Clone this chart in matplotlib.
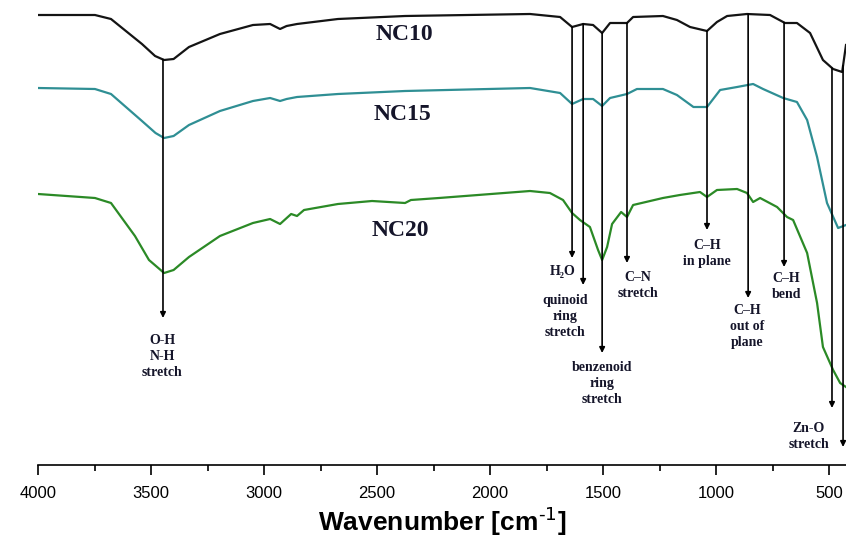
import numpy as np
import matplotlib
matplotlib.use("Agg")
import matplotlib.pyplot as plt

# wavenumber (cm-1) and transmittance (a.u., offset)
wn_nc10 = [4000, 3748, 3677, 3540, 3482, 3442, 3400, 3332, 3195, 3049, 2973, 2929, 2900,
           2854, 2673, 2376, 1823, 1690, 1637, 1588, 1544, 1504, 1469, 1394, 1367, 1235,
           1173, 1115, 1040, 996, 951, 863, 761, 695, 642, 584, 527, 482, 442, 425]
t_nc10 = [450, 450, 446, 421, 409, 405, 406, 418, 431, 440, 441, 436, 439,
          441, 446, 449, 451, 448, 438, 441, 440, 432, 442, 442, 448, 449,
          445, 438, 434, 443, 449, 451, 450, 442, 442, 432, 405, 396, 393, 420]

wn_nc15 = [4000, 3748, 3677, 3540, 3480, 3442, 3400, 3332, 3195, 3049, 2973, 2929, 2900,
           2854, 2673, 2376, 1823, 1690, 1637, 1588, 1544, 1504, 1469, 1394, 1350, 1235,
           1173, 1100, 1040, 982, 907, 836, 792, 703, 642, 597, 553, 509, 460, 425]
t_nc15 = [377, 376, 371, 344, 332, 327, 329, 340, 354, 364, 367, 364, 366,
          368, 371, 374, 377, 372, 361, 366, 366, 359, 367, 371, 376, 376,
          370, 358, 358, 375, 378, 381, 376, 367, 363, 345, 308, 262, 237, 240]

wn_nc20 = [4000, 3748, 3677, 3571, 3509, 3442, 3400, 3332, 3195, 3049, 2973, 2929, 2880,
           2854, 2823, 2673, 2522, 2376, 2350, 2226, 1823, 1735, 1677, 1637, 1602, 1558,
           1522, 1504, 1482, 1460, 1420, 1394, 1367, 1235, 1160, 1071, 1040, 996, 907,
           863, 836, 805, 730, 686, 659, 597, 553, 527, 482, 451, 425]
t_nc20 = [271, 267, 262, 229, 205, 192, 195, 208, 229, 242, 246, 241, 251,
          249, 255, 261, 264, 262, 265, 267, 274, 272, 265, 252, 245, 238,
          215, 205, 218, 241, 253, 248, 260, 267, 270, 273, 268, 275, 276,
          272, 263, 267, 258, 248, 245, 212, 162, 118, 95, 82, 78]

# band assignments: arrow position and tip, label position and text
band_wn = [3447, 1637, 1588, 1504, 1394, 1040, 858, 699, 487, 438]
band_tip = [147, 207, 180, 112, 202, 235, 167, 198, 57, 18]
label_wn = [3451, 1677, 1668, 1504, 1345, 1040, 863, 690, 590, None]
label_y = [131, 200, 171, 104, 194, 226, 161, 193, 43, None]
label_txt = ["O-H\nN-H\nstretch", "H\u2082O", "quinoid\nring\nstretch",
             "benzenoid\nring\nstretch", "C\u2013N\nstretch", "C\u2013H\nin plane",
             "C\u2013H\nout of\nplane", "C\u2013H\nbend", "Zn-O\nstretch", None]

fig = plt.figure(figsize=(8.46, 5.45), dpi=100)
ax = fig.add_axes([38 / 846, 80 / 545, 1 - 38 / 846, 465 / 545])

ax.plot(wn_nc10, t_nc10, color="#141414", lw=1.6)
ax.plot(wn_nc15, t_nc15, color="#2f8f94", lw=1.6)
ax.plot(wn_nc20, t_nc20, color="#2b8a26", lw=1.6)

serif = dict(family="Liberation Serif", fontweight="bold", color="#15152a")
ax.text(2380, 430, "NC10", fontsize=17, ha="center", va="center", **serif)
ax.text(2389, 351, "NC15", fontsize=17, ha="center", va="center", **serif)
ax.text(2398, 234, "NC20", fontsize=17, ha="center", va="center", **serif)

for i, w in enumerate(band_wn):
    y0 = np.interp(w, wn_nc10[::-1], t_nc10[::-1])
    ax.annotate("", xy=(w, band_tip[i]), xytext=(w, y0),
                arrowprops=dict(arrowstyle="-|>", color="black", lw=1.2,
                                mutation_scale=8, shrinkA=0, shrinkB=0))
    if label_txt[i]:
        ax.text(label_wn[i], label_y[i], label_txt[i], fontsize=10, ha="center",
                va="top", linespacing=1.3, **serif)

ax.set_xlim(4000, 425)
ax.set_ylim(0, 465)
ax.set_xticks([4000, 3500, 3000, 2500, 2000, 1500, 1000, 500])
ax.set_xticks(np.arange(3750, 400, -500), minor=True)
ax.tick_params(axis="x", which="major", length=7, width=1.2, labelsize=12, pad=8)
ax.tick_params(axis="x", which="minor", length=4, width=1.2)
for lab in ax.get_xticklabels():
    lab.set_family("Liberation Sans")
ax.set_yticks([])
for s in ["left", "right", "top"]:
    ax.spines[s].set_visible(False)
ax.spines["bottom"].set_linewidth(1.2)
ax.set_xlabel(r"Wavenumber [cm$^{\text{-1}}$]", fontsize=19, fontweight="bold",
              family="Liberation Sans", labelpad=3)

fig.savefig("out.png", dpi=100)
